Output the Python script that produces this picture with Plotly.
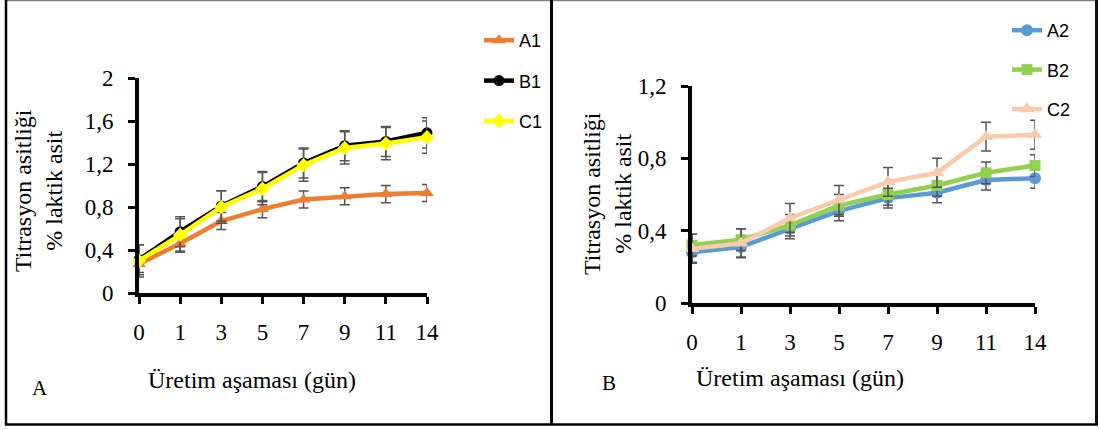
import plotly.graph_objects as go

W, H = 1099, 430

# ---------------- data ----------------
days = ["0", "1", "3", "5", "7", "9", "11", "14"]

A1 = [0.27, 0.46, 0.67, 0.78, 0.87, 0.90, 0.92, 0.93]
B1 = [0.31, 0.57, 0.81, 0.99, 1.21, 1.37, 1.41, 1.49]
C1 = [0.30, 0.54, 0.80, 0.97, 1.19, 1.35, 1.39, 1.45]
A1_err = [0.08, 0.08, 0.08, 0.08, 0.08, 0.08, 0.08, 0.08]
B1_err = [0.14, 0.14, 0.14, 0.14, 0.14, 0.14, 0.14, 0.14]
C1_err = [0.15, 0.15, 0.15, 0.15, 0.15, 0.15, 0.15, 0.15]

A2 = [0.28, 0.31, 0.41, 0.51, 0.58, 0.61, 0.68, 0.69]
B2 = [0.32, 0.35, 0.43, 0.54, 0.60, 0.65, 0.72, 0.76]
C2 = [0.30, 0.33, 0.47, 0.57, 0.67, 0.72, 0.92, 0.93]
A2_err = [0.055, 0.055, 0.055, 0.055, 0.055, 0.055, 0.055, 0.055]
B2_err = [0.06, 0.06, 0.06, 0.06, 0.06, 0.06, 0.06, 0.06]
C2_err = [0.08, 0.08, 0.08, 0.08, 0.08, 0.08, 0.08, 0.08]

y1_ticks = [0, 0.4, 0.8, 1.2, 1.6, 2.0]
y1_text = ["0", "0,4", "0,8", "1,2", "1,6", "2"]
y2_ticks = [0, 0.4, 0.8, 1.2]
y2_text = ["0", "0,4", "0,8", "1,2"]

y_title = "Titrasyon asitliği<br>% laktik asit"
x_title = "Üretim aşaması (gün)"


def px(x):
    return x / W


def py(y):
    return 1 - y / H


SERIF = "Liberation Serif, Times New Roman, serif"
SANS = "Liberation Sans, Arial, sans-serif"
ERR_COLOR = "#555555"

fig = go.Figure()


def add(x, y, err, name, color, symbol, msize, lw, xa, ya, legend, group):
    fig.add_trace(go.Scatter(
        x=x, y=y, name=name, mode="lines+markers",
        line=dict(color=color, width=lw),
        marker=dict(symbol=symbol, size=msize, color=color),
        error_y=dict(type="data", array=err, visible=True,
                     color=ERR_COLOR, thickness=1.5, width=5),
        xaxis=xa, yaxis=ya, legend=legend, legendgroup=group,
        cliponaxis=False,
    ))


add(days, A1, A1_err, "A1", "#ED7D31", "triangle-up", 12, 4.5, "x", "y", "legend", "a1")
add(days, B1, B1_err, "B1", "#000000", "circle", 11, 4.5, "x", "y", "legend", "b1")
add(days, C1, C1_err, "C1", "#FFFF00", "diamond", 11, 4.5, "x", "y", "legend", "c1")

add(days, A2, A2_err, "A2", "#5B9BD5", "circle", 12, 4.5, "x2", "y2", "legend2", "a2")
add(days, B2, B2_err, "B2", "#92D050", "square", 11, 4.5, "x2", "y2", "legend2", "b2")
add(days, C2, C2_err, "C2", "#F8CBAD", "triangle-up", 13, 4.5, "x2", "y2", "legend2", "c2")

axis_common = dict(
    showline=True, linecolor="black", linewidth=4,
    ticks="outside", ticklen=7, tickwidth=2.5, tickcolor="black",
    showgrid=False, zeroline=False,
    tickfont=dict(family=SERIF, size=23, color="black"),
)

fig.update_layout(
    width=W, height=H,
    margin=dict(l=0, r=0, t=0, b=0, autoexpand=False),
    paper_bgcolor="white", plot_bgcolor="white",
    showlegend=True,
    xaxis=dict(domain=[px(139), px(427)], type="category",
               categoryorder="array", categoryarray=days,
               range=[0, 7], anchor="y", ticklabelstandoff=8,
               **axis_common),
    yaxis=dict(domain=[py(293), py(78)], range=[0, 2],
               tickvals=y1_ticks, ticktext=y1_text, anchor="x",
               ticklabelstandoff=10, **axis_common),
    xaxis2=dict(domain=[px(692), px(1035)], type="category",
                categoryorder="array", categoryarray=days,
                range=[0, 7], anchor="y2", ticklabelstandoff=8,
                **axis_common),
    yaxis2=dict(domain=[py(303), py(86)], range=[0, 1.2],
                tickvals=y2_ticks, ticktext=y2_text, anchor="x2",
                ticklabelstandoff=10, **axis_common),
    legend=dict(x=px(479), y=py(22), xanchor="left", yanchor="top",
                traceorder="grouped", tracegroupgap=14,
                font=dict(family=SANS, size=18, color="black"),
                bgcolor="rgba(0,0,0,0)"),
    legend2=dict(x=px(1007), y=py(12), xanchor="left", yanchor="top",
                 traceorder="grouped", tracegroupgap=13,
                 font=dict(family=SANS, size=18, color="black"),
                 bgcolor="rgba(0,0,0,0)"),
)

annotations = [
    dict(text=x_title, x=px(252), y=py(380)),
    dict(text=x_title, x=px(800), y=py(378)),
    dict(text=y_title, x=px(39), y=py(191), textangle=-90),
    dict(text=y_title, x=px(607), y=py(194), textangle=-90),
    dict(text="A", x=px(40), y=py(388)),
    dict(text="B", x=px(609), y=py(383)),
]
for a in annotations:
    size = 21 if a["text"] in ("A", "B") else 24
    fig.add_annotation(xref="paper", yref="paper", xanchor="center",
                       yanchor="middle", showarrow=False,
                       font=dict(family=SERIF, size=size, color="black"),
                       **a)

# panel frames
fig.add_shape(type="line", xref="paper", yref="paper",
              x0=px(7), x1=px(1096), y0=py(0.5), y1=py(0.5),
              line=dict(color="#808080", width=1.5))
fig.add_shape(type="line", xref="paper", yref="paper",
              x0=px(6), x1=px(6), y0=py(0), y1=py(425),
              line=dict(color="black", width=2.5))
fig.add_shape(type="line", xref="paper", yref="paper",
              x0=px(551.5), x1=px(551.5), y0=py(0), y1=py(425),
              line=dict(color="black", width=3))
fig.add_shape(type="line", xref="paper", yref="paper",
              x0=px(1096.5), x1=px(1096.5), y0=py(0), y1=py(425),
              line=dict(color="#111111", width=3))
fig.add_shape(type="line", xref="paper", yref="paper",
              x0=px(5), x1=px(1098), y0=py(424.5), y1=py(424.5),
              line=dict(color="black", width=2.5))

fig.write_html("out.html")
